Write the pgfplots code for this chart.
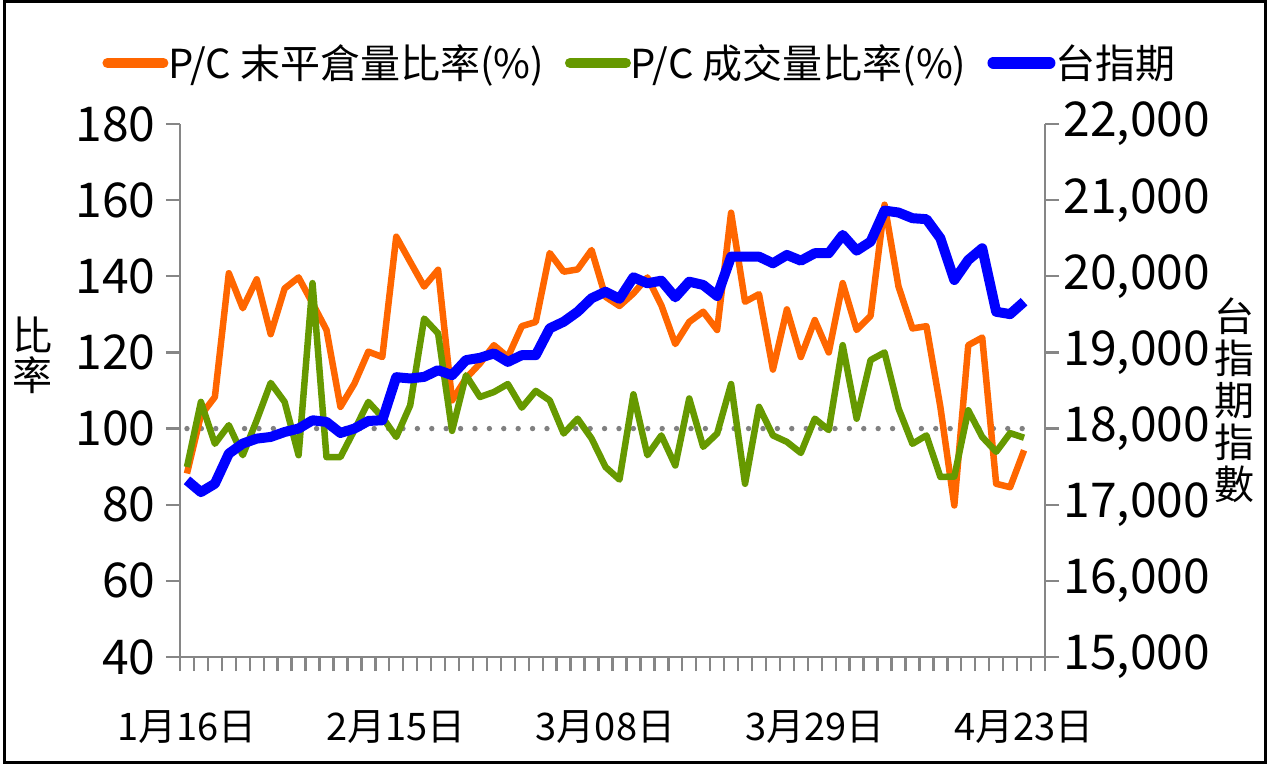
\documentclass[border=0pt]{standalone}
\usepackage{fontspec}
\setmainfont{Noto Sans CJK TC}
\usepackage{pgfplots}
\usepackage{pgfplotstable}
\pgfplotsset{compat=1.18}
\definecolor{cOr}{RGB}{255,102,0}
\definecolor{cGr}{RGB}{102,153,0}
\definecolor{cBl}{RGB}{0,0,255}
\definecolor{cAx}{RGB}{134,134,134}
\definecolor{cDot}{RGB}{128,128,128}

\pgfplotstableread{
idx pc gr tx
0 88.2 89.9 17320
1 103.5 107.0 17166
2 108.3 96.0 17276
3 140.8 100.9 17671
4 131.6 93.0 17803
5 139.2 102.2 17868
6 124.8 112.0 17890
7 136.8 107.0 17955
8 139.7 93.0 18000
9 132.9 138.2 18109
10 125.9 92.5 18087
11 105.7 92.5 17942
12 111.8 99.6 18000
13 120.2 107.0 18100
14 118.8 103.0 18109
15 150.4 97.8 18675
16 143.8 106.1 18658
17 137.3 128.9 18679
18 141.7 125.0 18767
19 107.4 99.4 18701
20 113.2 114.0 18899
21 117.1 108.3 18929
22 121.9 109.6 18987
23 118.8 111.7 18876
24 126.9 105.5 18964
25 128.0 109.9 18964
26 146.1 107.4 19316
27 141.2 98.7 19403
28 141.8 102.6 19534
29 146.9 97.4 19711
30 134.6 89.9 19797
31 132.2 86.6 19704
32 135.5 109.0 19987
33 139.7 93.0 19908
34 132.4 98.2 19942
35 122.2 90.3 19724
36 128.0 107.9 19929
37 130.7 95.2 19886
38 125.9 98.7 19741
39 156.7 111.7 20258
40 133.3 85.5 20258
41 135.3 105.7 20258
42 115.5 98.2 20171
43 131.3 96.5 20280
44 118.8 93.6 20205
45 128.5 102.6 20303
46 120.0 99.6 20303
47 138.2 121.9 20543
48 125.9 102.6 20337
49 129.6 118.0 20455
50 158.8 120.0 20863
51 137.3 105.3 20837
52 126.3 96.0 20763
53 126.9 98.2 20750
54 105.7 87.3 20500
55 79.8 87.4 19951
56 121.9 104.8 20214
57 123.9 97.8 20368
58 85.5 93.9 19534
59 84.6 98.8 19503
60 94.3 97.6 19666
}\data

\begin{document}
\begin{tikzpicture}
\useasboundingbox (-90bp,-53.5bp) rectangle (548.5bp,328.5bp);
\begin{axis}[
  at={(0,0)}, anchor=south west, scale only axis,
  width=432.5bp, height=266.5bp,
  xmin=-0.5, xmax=61.5, ymin=40, ymax=180,
  axis y line*=left, axis x line*=bottom,
  axis line style={cAx, line width=1.2bp, -},
  tick align=outside, major tick length=7bp,
  tick style={cAx, line width=1.2bp},
  xtick={-0.5,0.5,...,61.5}, xticklabels={},
  extra x ticks={0,15,30,45,60},
  extra x tick labels={1月16日,2月15日,3月08日,3月29日,4月23日},
  extra x tick style={major tick length=0pt,
     tick label style={font=\fontsize{19bp}{22bp}\selectfont, inner sep=0pt, yshift=-26.8bp}},
  ytick={40,60,...,180},
  yticklabel style={font=\fontsize{24bp}{28bp}\selectfont, inner sep=0pt, xshift=-5bp},
  /pgf/number format/assume math mode=true,
  clip=false,
]
\addplot[cDot, line width=2.7bp, line cap=round, dash pattern=on 0bp off 7.2bp] coordinates {(0,100) (60,100)};
\addplot[cOr, line width=3.25bp, line join=round] table[x=idx, y=pc] {\data};
\addplot[cGr, line width=3.25bp, line join=round] table[x=idx, y=gr] {\data};
\end{axis}
\begin{axis}[
  at={(0,0)}, anchor=south west, scale only axis,
  width=432.5bp, height=266.5bp,
  xmin=-0.5, xmax=61.5, ymin=15000, ymax=22000,
  axis y line*=right, axis x line=none,
  axis line style={cAx, line width=1.2bp, -},
  tick align=outside, major tick length=7bp,
  tick style={cAx, line width=1.2bp},
  ytick={15000,16000,...,22000},
  scaled y ticks=false,
  yticklabel style={font=\fontsize{24bp}{28bp}\selectfont, inner sep=0pt, xshift=2bp,
     /pgf/number format/1000 sep={,}},
  /pgf/number format/assume math mode=true,
  clip=false,
  legend columns=3,
  legend cell align=left,
  legend style={at={(0.5306,1.1145)}, anchor=center, draw=none, fill=none,
     font=\fontsize{20bp}{24bp}\selectfont,
     nodes={inner sep=0pt},
     /tikz/every odd column/.append style={column sep=0bp},
     /tikz/every even column/.append style={column sep=10.5bp}},
  legend image code/.code={\draw[#1, line cap=round] (0bp,0bp) -- (28bp,0bp);},
]
\addlegendimage{cOr, line width=5bp}
\addlegendentry{P/C 末平倉量比率(\%)}
\addlegendimage{cGr, line width=5bp}
\addlegendentry{P/C 成交量比率(\%)}
\addplot[cBl, line width=5bp, line join=round, forget plot] table[x=idx, y=tx] {\data};
\addlegendimage{cBl, line width=6bp}
\addlegendentry{台指期}
\end{axis}
\draw[black, line width=1.5bp] (-87.5bp,-52.5bp) rectangle (542.5bp,327.5bp);
\node[font=\fontsize{20bp}{20bp}\selectfont, align=center] at (-73.5bp,151bp) {比\\率};
\node[font=\fontsize{20bp}{21bp}\selectfont, align=center] at (527bp,128.5bp) {台\\指\\期\\指\\數};
\end{tikzpicture}
\end{document}
